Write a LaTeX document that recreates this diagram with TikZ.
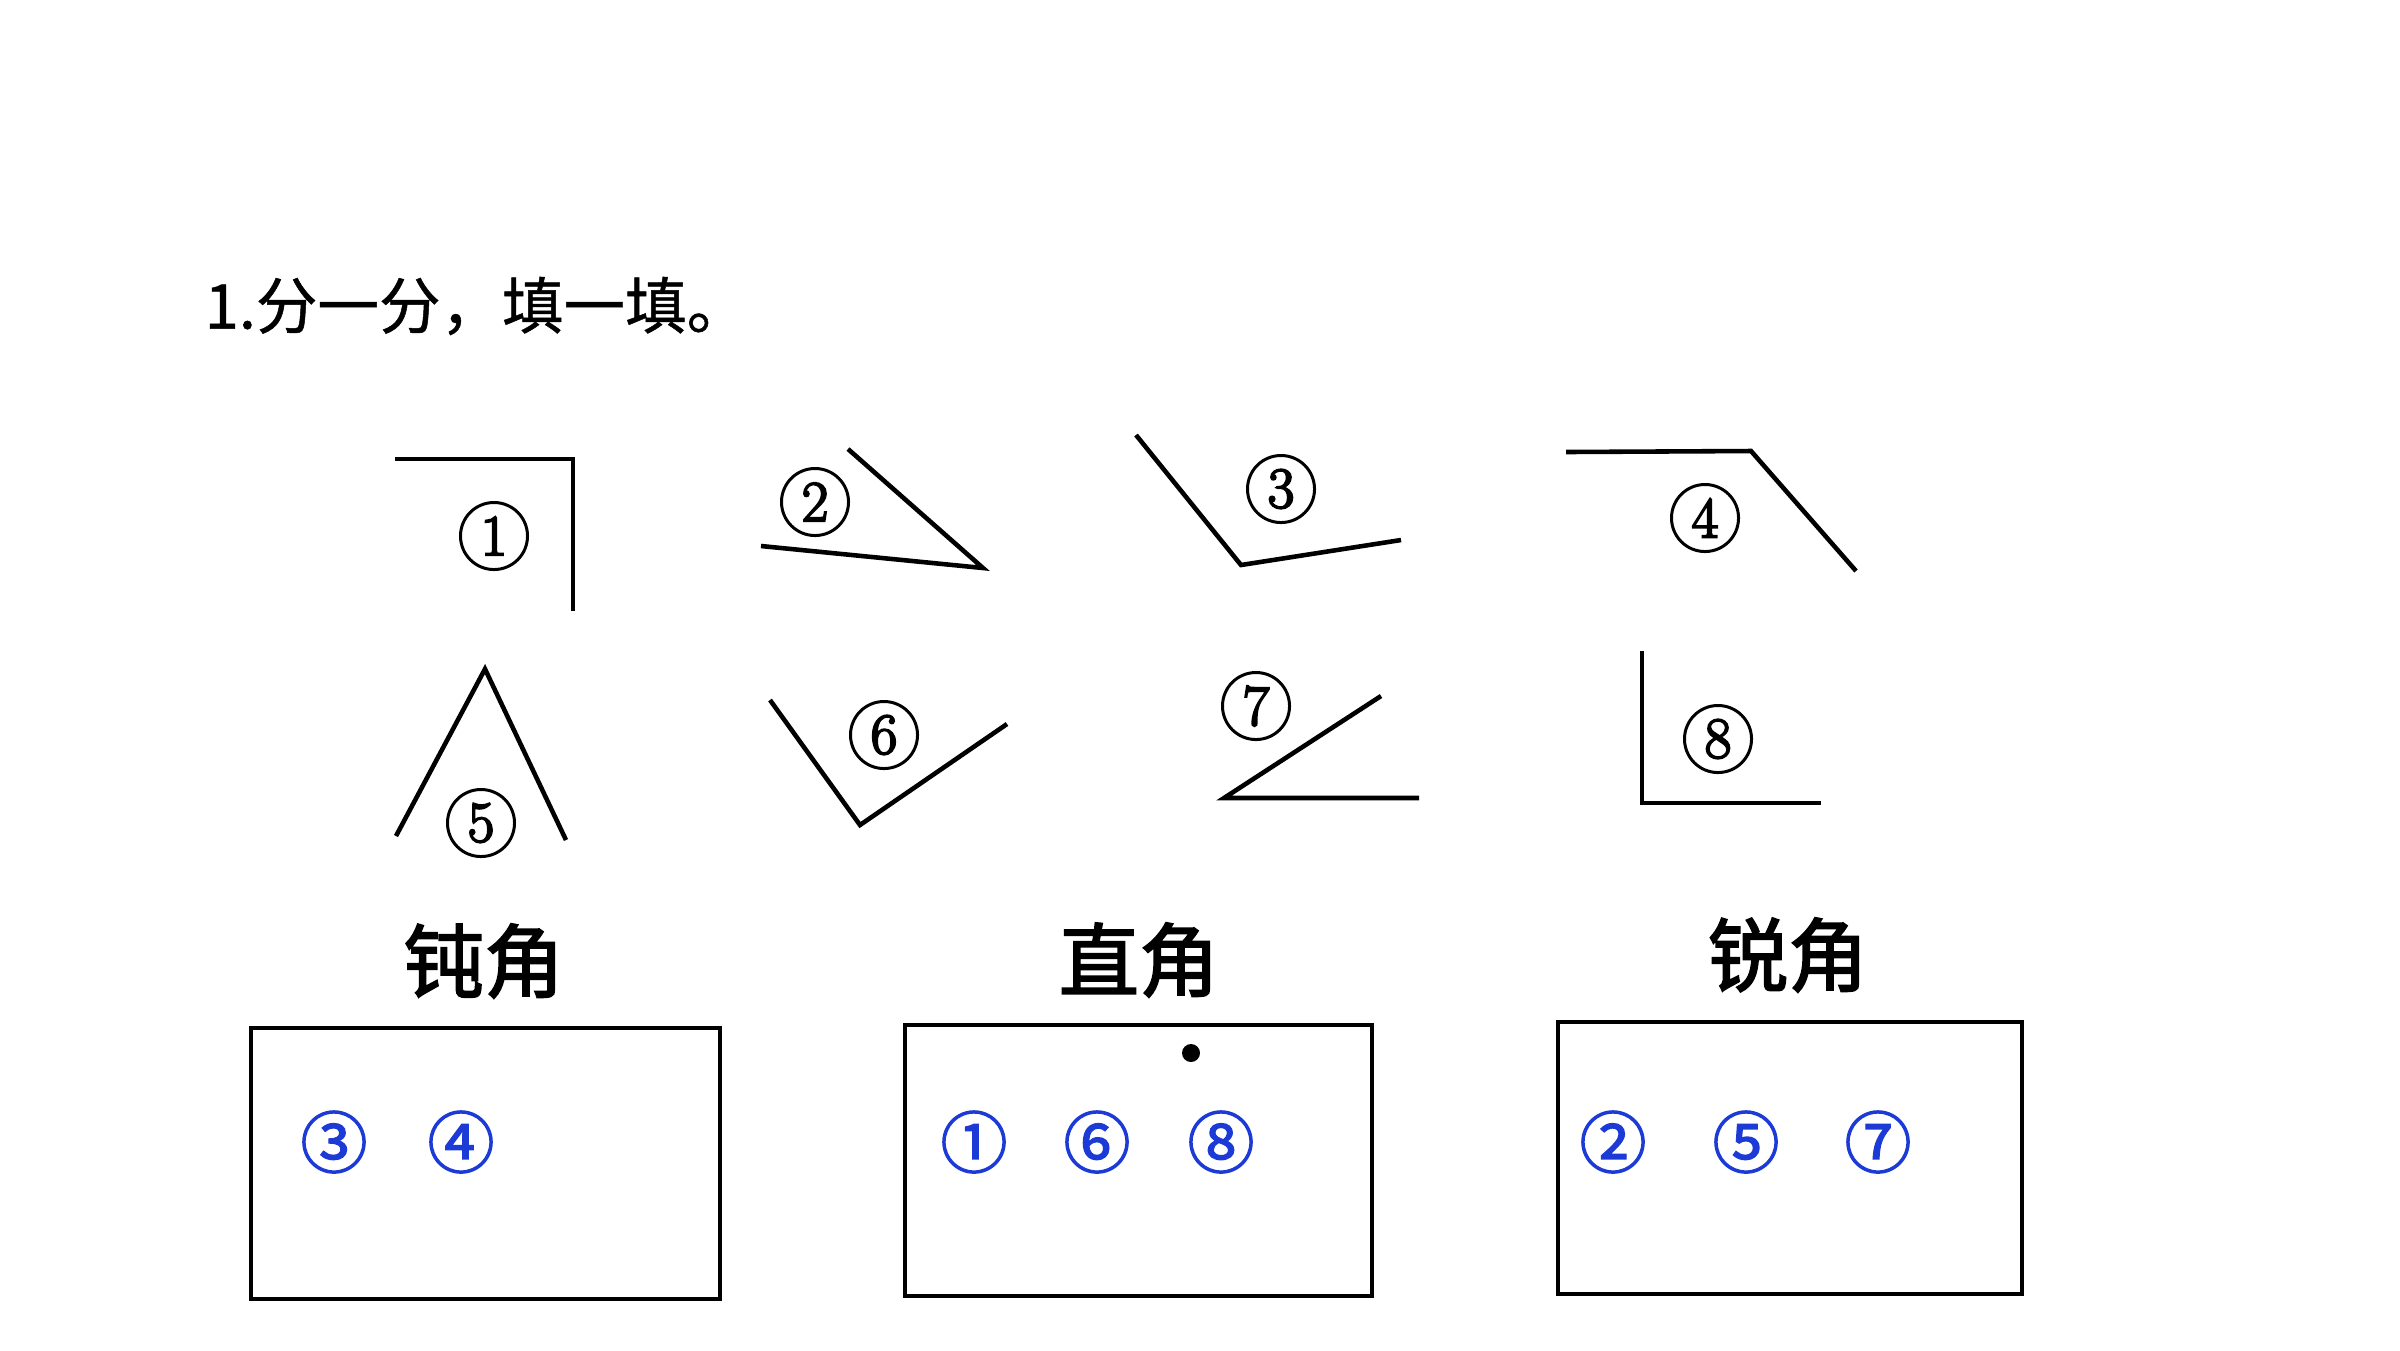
\documentclass[tikz,border=0pt]{standalone}
\usepackage{fontspec}
\newfontfamily\cjk{Noto Sans CJK SC}
\newfontfamily\cjkhead{Noto Sans CJK SC}[FakeBold=2.2]
\newfontfamily\cjkans{Noto Sans CJK SC}[FakeBold=2]
\newfontfamily\cjktitle{Noto Sans CJK SC}[FakeBold=0.8]
\newfontfamily\lmdig{Latin Modern Roman}[FakeBold=3.5]
\definecolor{ansblue}{RGB}{28,58,214}
\begin{document}
\begin{tikzpicture}[x=0.01cm,y=-0.01cm,
  ang/.style={line width=1.3pt, line join=miter},
  lbl/.style={circle, draw, line width=0.85pt, minimum size=0.67cm, inner sep=0pt, font=\lmdig\fontsize{16.5}{18}\selectfont},
  ansbox/.style={draw, line width=1.2pt},
  ans/.style={text=ansblue, inner sep=0pt, font=\cjkans\fontsize{19}{20}\selectfont},
  head/.style={inner sep=0pt, font=\cjkhead\fontsize{22.8}{24}\selectfont},
  ttl/.style={inner sep=0pt, anchor=west, font=\cjktitle\fontsize{17.5}{20}\selectfont}]
\useasboundingbox[fill=white] (0,0) rectangle (2400,1350);

% title
\node[ttl] (title) at (204,306) {1.分一分，填一填。};

% angle 1
\coordinate (a1s) at (395,459); \coordinate (a1v) at (573,459); \coordinate (a1e) at (573,611);
\draw[ang] (a1s) -- (a1v) -- (a1e);
\node[lbl] (l1) at (494,536) {1};
% angle 2
\coordinate (a2s) at (761,546); \coordinate (a2v) at (983,568); \coordinate (a2e) at (848,449);
\draw[ang] (a2s) -- (a2v) -- (a2e);
\node[lbl] (l2) at (815,502) {2};
% angle 3
\coordinate (a3s) at (1136,435); \coordinate (a3v) at (1241,565); \coordinate (a3e) at (1401,540);
\draw[ang] (a3s) -- (a3v) -- (a3e);
\node[lbl] (l3) at (1281,489) {3};
% angle 4
\coordinate (a4s) at (1566,452); \coordinate (a4v) at (1751,451); \coordinate (a4e) at (1856,571);
\draw[ang] (a4s) -- (a4v) -- (a4e);
\node[lbl] (l4) at (1705,518) {4};
% angle 5
\coordinate (a5s) at (396,836); \coordinate (a5v) at (485,669); \coordinate (a5e) at (566,840);
\draw[ang] (a5s) -- (a5v) -- (a5e);
\node[lbl] (l5) at (481,823) {5};
% angle 6
\coordinate (a6s) at (770,700); \coordinate (a6v) at (860,825); \coordinate (a6e) at (1007,724);
\draw[ang] (a6s) -- (a6v) -- (a6e);
\node[lbl] (l6) at (884,735) {6};
% angle 7
\coordinate (a7s) at (1381,696); \coordinate (a7v) at (1224,798); \coordinate (a7e) at (1419,798);
\draw[ang] (a7s) -- (a7v) -- (a7e);
\node[lbl] (l7) at (1256,706) {7};
% angle 8
\coordinate (a8s) at (1642,651); \coordinate (a8v) at (1642,803); \coordinate (a8e) at (1821,803);
\draw[ang] (a8s) -- (a8v) -- (a8e);
\node[lbl] (l8) at (1718,739) {8};

% headings
\node[head] (h1) at (484,961) {钝角};
\node[head] (h2) at (1139,960) {直角};
\node[head] (h3) at (1788,955) {锐角};

% answer boxes
\draw[ansbox] (251,1028) rectangle (720,1299);
\draw[ansbox] (905,1025) rectangle (1372,1296);
\draw[ansbox] (1558,1022) rectangle (2022,1294);
\fill (1191,1053) circle (9);

% answers
\node[ans] (b3) at (334,1142) {③};
\node[ans] (b4) at (461,1142) {④};
\node[ans] (b1) at (974,1142) {①};
\node[ans] (b6) at (1097,1142) {⑥};
\node[ans] (b8) at (1221,1142) {⑧};
\node[ans] (b2) at (1613,1142) {②};
\node[ans] (b5) at (1746,1142) {⑤};
\node[ans] (b7) at (1878,1142) {⑦};
\end{tikzpicture}
\end{document}
